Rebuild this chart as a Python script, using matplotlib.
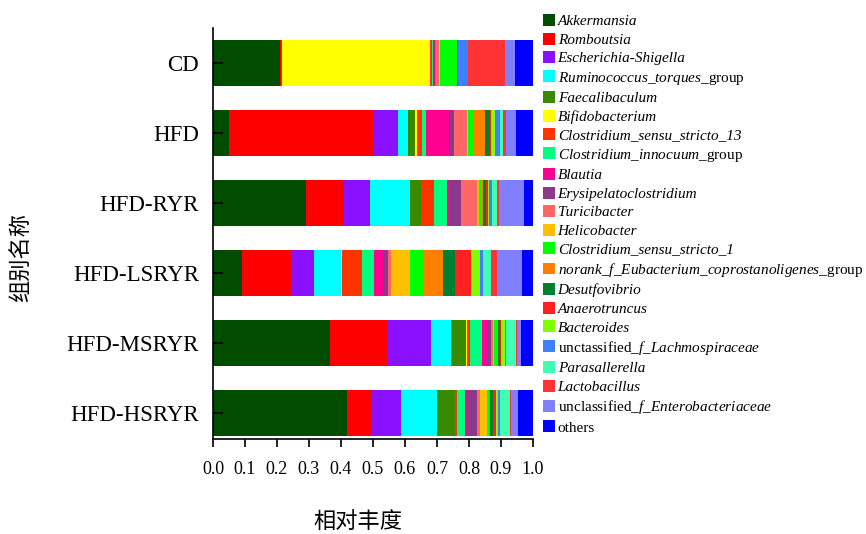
import matplotlib
matplotlib.use("Agg")
import matplotlib.pyplot as plt
import numpy as np

plt.rcParams['font.family'] = ['Liberation Serif', 'Noto Sans CJK SC', 'DejaVu Sans']
plt.rcParams['mathtext.fontset'] = 'custom'
plt.rcParams['mathtext.rm'] = 'Liberation Serif'
plt.rcParams['mathtext.it'] = 'Liberation Serif:italic'

groups = ["CD", "HFD", "HFD-RYR", "HFD-LSRYR", "HFD-MSRYR", "HFD-HSRYR"]

taxa = [
    "Akkermansia", "Romboutsia", "Escherichia-Shigella", "Ruminococcus_torques_group",
    "Faecalibaculum", "Bifidobacterium", "Clostridium_sensu_stricto_13",
    "Clostridium_innocuum_group", "Blautia", "Erysipelatoclostridium", "Turicibacter",
    "Helicobacter", "Clostridium_sensu_stricto_1",
    "norank_f_Eubacterium_coprostanoligenes_group", "Desutfovibrio", "Anaerotruncus",
    "Bacteroides", "unctassified_f_Lachmospiraceae", "Parasallerella", "Lactobacillus",
    "unclassified_f_Enterobacteriaceae", "others",
]

legend_labels = [
    "Akkermansia", "Romboutsia", "Escherichia-Shigella",
    r"$\mathit{Ruminococcus\_torques}$_group",
    "Faecalibaculum", "Bifidobacterium", "Clostridium_sensu_stricto_13",
    r"$\mathit{Clostridium\_innocuum}$_group", "Blautia", "Erysipelatoclostridium",
    "Turicibacter", "Helicobacter", "Clostridium_sensu_stricto_1",
    r"$\mathit{norank\_f\_Eubacterium\_coprostanoligenes}$_group", "Desutfovibrio",
    "Anaerotruncus", "Bacteroides", r"unctassified_$\mathit{f\_Lachmospiraceae}$",
    "Parasallerella", "Lactobacillus", r"unclassified_$\mathit{f\_Enterobacteriaceae}$",
    "others",
]

cd =     [0.210, 0.002, 0.001, 0.001, 0.001, 0.464, 0.005, 0.005, 0.005, 0.001, 0.010,
          0.005, 0.052, 0.001, 0.001, 0.001, 0.001, 0.031, 0.001, 0.115, 0.030, 0.057]
hfd =    [0.051, 0.450, 0.078, 0.029, 0.023, 0.005, 0.017, 0.014, 0.072, 0.014, 0.040,
          0.004, 0.016, 0.036, 0.016, 0.005, 0.010, 0.016, 0.010, 0.010, 0.032, 0.052]
hfd_ryr = [0.292, 0.114, 0.086, 0.123, 0.034, 0.002, 0.039, 0.040, 0.010, 0.036, 0.048,
           0.008, 0.008, 0.004, 0.010, 0.004, 0.004, 0.010, 0.015, 0.006, 0.080, 0.027]
hfd_lsryr = [0.091, 0.154, 0.071, 0.083, 0.002, 0.002, 0.064, 0.036, 0.028, 0.016, 0.010,
             0.060, 0.038, 0.065, 0.037, 0.049, 0.029, 0.009, 0.025, 0.020, 0.078, 0.033]
hfd_msryr = [0.367, 0.177, 0.137, 0.062, 0.049, 0.002, 0.008, 0.040, 0.018, 0.010, 0.004,
             0.004, 0.008, 0.004, 0.006, 0.004, 0.012, 0.004, 0.030, 0.004, 0.012, 0.038]
hfd_hsryr = [0.420, 0.075, 0.092, 0.113, 0.055, 0.002, 0.007, 0.024, 0.010, 0.026, 0.010,
             0.021, 0.008, 0.004, 0.008, 0.010, 0.006, 0.006, 0.030, 0.004, 0.022, 0.047]

colors = [
    "#004d00", "#ff0000", "#8b10ff", "#00ffff", "#3a8a00", "#ffff00", "#ff3300",
    "#00ff80", "#ff0090", "#8b3a8b", "#ff6666", "#ffc000", "#00ff00", "#ff8000",
    "#008030", "#ff2020", "#80ff00", "#4080ff", "#40ffb0", "#ff3333", "#8080ff",
    "#0000ff",
]

data = np.array([cd, hfd, hfd_ryr, hfd_lsryr, hfd_msryr, hfd_hsryr])

fig = plt.figure(figsize=(8.66, 5.34), dpi=100)
ax = fig.add_axes([213 / 866, 1 - 439 / 534, 320 / 866, (439 - 28) / 534])

ypos = np.arange(len(groups))
left = np.zeros(len(groups))
handles = []
for j in range(len(taxa)):
    h = ax.barh(ypos, data[:, j], left=left, height=0.66, color=colors[j],
                edgecolor='none', label=legend_labels[j])
    handles.append(h)
    left += data[:, j]

ax.set_xlim(0, 1.0)
ax.set_ylim(5.37, -0.5)
ax.set_yticks(ypos)
ax.set_yticklabels(groups, fontsize=16.5)
ax.set_xticks(np.arange(0, 1.01, 0.1))
ax.set_xticklabels([f"{v:.1f}" for v in np.arange(0, 1.01, 0.1)], fontsize=13)
ax.tick_params(axis='y', direction='in', length=7, width=1.2, pad=10)
ax.tick_params(axis='x', direction='out', length=6, width=1.2, pad=10)
for s in ['top', 'right']:
    ax.spines[s].set_visible(False)
for s in ['left', 'bottom']:
    ax.spines[s].set_linewidth(1.2)

fig.text(358 / 866, 1 - 522 / 534, "相对丰度", fontsize=16, ha='center', va='center',
         family=['Noto Sans CJK SC', 'DejaVu Sans'])
fig.text(20 / 866, 1 - 257 / 534, "组别名称", fontsize=16, ha='center', va='center',
         rotation=90, family=['Noto Sans CJK SC', 'DejaVu Sans'])

leg = fig.legend(handles=handles, labels=legend_labels, loc='upper left',
                 bbox_to_anchor=(543 / 866, 1 - 14 / 534), frameon=False,
                 fontsize=11, labelspacing=0.28, handlelength=0.76,
                 handleheight=0.83, handletextpad=0.2, borderpad=0,
                 borderaxespad=0)
for t in leg.get_texts():
    if '$' not in t.get_text() and t.get_text() != 'others':
        t.set_fontstyle('italic')

fig.savefig("out.png", dpi=100)
